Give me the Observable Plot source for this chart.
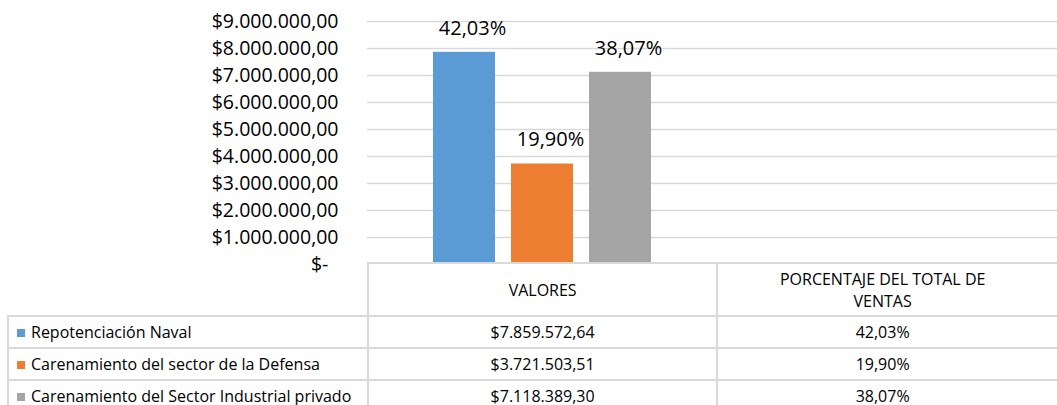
<!DOCTYPE html>
<html>
<head>
<meta charset="utf-8">
<script src="https://cdn.jsdelivr.net/npm/d3@7"></script>
<script src="https://cdn.jsdelivr.net/npm/@observablehq/plot@0.6"></script>
<style>
  html, body { margin: 0; padding: 0; background: #fff; overflow: hidden; }
  #wrap { position: relative; width: 1057px; height: 405px; overflow: hidden; }
  #chart { position: absolute; left: 0; top: 0; }
  #dt {
    position: absolute; left: 7px; top: 262px;
    border-collapse: collapse; table-layout: fixed;
    font-family: "Open Sans", sans-serif; font-size: 16px; color: #000;
    background: transparent;
  }
  #dt td {
    border: 2px solid #d9d9d9; padding: 0; text-align: center; vertical-align: middle;
    white-space: nowrap; line-height: 22px;
  }
  #dt td.blank { border-top: none; border-left: none; }
  #dt td.last { border-right: none; padding-right: 10px; }
  #dt tr.hdr td { height: 51px; }
  #dt tr.row td { height: 30px; }
  #dt td.leg { text-align: left; padding-left: 8px; }
  #dt .sw { display: inline-block; width: 8px; height: 8px; margin-right: 6px; vertical-align: 1px; }
</style>
</head>
<body>
<div id="wrap">
  <div id="chart"></div>
  <table id="dt"></table>
</div>
<script>
// ---- data ----
const series = [
  "Repotenciación Naval",
  "Carenamiento del sector de la Defensa",
  "Carenamiento del Sector Industrial privado"
];
const valores = [7859572.64, 3721503.51, 7118389.30];
const porcentajes = [0.4203, 0.1990, 0.3807];
const metrics = ["VALORES", "PORCENTAJE DEL TOTAL DE VENTAS"];
const headerLines = [["VALORES"], ["PORCENTAJE DEL TOTAL DE", "VENTAS"]];
const colors = ["#5B9BD5", "#ED7D31", "#A5A5A5"];
const yTicks = [0, 1e6, 2e6, 3e6, 4e6, 5e6, 6e6, 7e6, 8e6, 9e6];

// ---- formats ----
const locale = d3.formatLocale({decimal: ",", thousands: ".", grouping: [3], currency: ["$", ""]});
const fmtMoney = locale.format("$,.2f");
const fmtPct = locale.format(".2%");
const fmtTick = d => d === 0 ? "$-\u00a0\u00a0" : fmtMoney(d);

const rows = metrics.flatMap((m, mi) => series.map((s, i) => ({
  metric: m, serie: s, value: mi === 0 ? valores[i] : porcentajes[i], pct: porcentajes[i]
})));

const chart = Plot.plot({
  width: 1067, height: 282,
  marginLeft: 367, marginRight: 0, marginTop: 21, marginBottom: 18,
  style: {fontFamily: "'Open Sans', sans-serif", fontSize: "19.5px", color: "#000",
          background: "transparent", overflow: "visible", maxWidth: "none"},
  fx: {domain: metrics, padding: 0, axis: null, label: null},
  x: {domain: series, paddingInner: 0.205, paddingOuter: 0.846, axis: null},
  y: {domain: [0, 9e6], ticks: yTicks, tickFormat: fmtTick, tickSize: 0, tickPadding: 29, label: null},
  color: {domain: series, range: colors},
  marks: [
    Plot.gridY(yTicks.filter(d => d > 0), {stroke: "#d9d9d9", strokeOpacity: 1, strokeWidth: 1.3}),
    Plot.barY(rows, {fx: "metric", x: "serie", y: "value", fill: "serie"}),
    Plot.text(rows.filter(d => d.metric === metrics[0]), {
      fx: "metric", x: "serie", y: "value", text: d => fmtPct(d.pct),
      dx: 8, dy: -24, fontSize: 20, fill: "#000", lineAnchor: "middle"
    })
  ]
});
document.getElementById("chart").appendChild(chart);

// ---- data table (legend + values) ----
const table = document.getElementById("dt");
const colW = [360, 350, 340];
const cg = document.createElement("colgroup");
colW.forEach(w => { const c = document.createElement("col"); c.style.width = w + "px"; cg.appendChild(c); });
table.appendChild(cg);
const hdr = document.createElement("tr");
hdr.className = "hdr";
const blank = document.createElement("td"); blank.className = "blank"; hdr.appendChild(blank);
headerLines.forEach((lines, i) => {
  const td = document.createElement("td");
  if (i === headerLines.length - 1) td.className = "last";
  lines.forEach((l, j) => {
    if (j > 0) td.appendChild(document.createElement("br"));
    td.appendChild(document.createTextNode(l));
  });
  hdr.appendChild(td);
});
table.appendChild(hdr);
series.forEach((s, i) => {
  const tr = document.createElement("tr"); tr.className = "row";
  const l = document.createElement("td"); l.className = "leg";
  const sw = document.createElement("span"); sw.className = "sw"; sw.style.background = colors[i];
  l.appendChild(sw); l.appendChild(document.createTextNode(s));
  const v = document.createElement("td"); v.textContent = fmtMoney(valores[i]);
  const p = document.createElement("td"); p.className = "last"; p.textContent = fmtPct(porcentajes[i]);
  tr.appendChild(l); tr.appendChild(v); tr.appendChild(p);
  table.appendChild(tr);
});
</script>
</body>
</html>
